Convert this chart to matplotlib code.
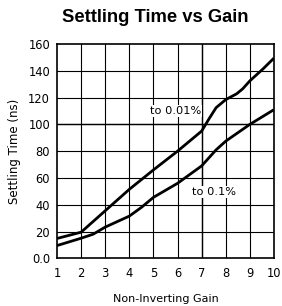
import matplotlib
matplotlib.use("Agg")
import matplotlib.pyplot as plt

gain_001 = [1, 2, 3, 4, 5, 6, 7, 7.3, 7.6, 8, 8.45, 8.7, 9, 9.55, 10]
t_001 = [14.8, 19.5, 35.5, 51.5, 66, 80, 95, 104, 112.5, 118.5, 122.8, 126.5, 132.5, 141.5, 149.5]

gain_01 = [1, 2, 2.5, 3, 4, 4.5, 5, 6, 7, 7.3, 7.6, 8, 9, 10]
t_01 = [9.5, 15, 18, 23.3, 31.5, 38, 45.5, 56, 69, 75, 81, 87.5, 100, 111]

x_ticks = [1, 2, 3, 4, 5, 6, 7, 8, 9, 10]
y_ticks = [0, 20, 40, 60, 80, 100, 120, 140, 160]
y_ticklabels = ["0.0", "20", "40", "60", "80", "100", "120", "140", "160"]

fig = plt.figure(figsize=(2.82, 3.06), dpi=100)
ax = fig.add_axes([57/282, (306-258.3)/306, (274-57)/282, (258.3-44)/306])

for x in x_ticks[1:-1]:
    ax.axvline(x, color="black", lw=1.05 if x == 7 else 0.8, zorder=1)
for y in y_ticks[1:-1]:
    ax.axhline(y, color="black", lw=1.05 if y == 100 else 0.8, zorder=1)

ax.plot(gain_001, t_001, color="black", lw=2.0, zorder=3, solid_capstyle="butt")
ax.plot(gain_01, t_01, color="black", lw=2.0, zorder=3, solid_capstyle="butt")

ax.set_xlim(1, 10)
ax.set_ylim(0, 160)
ax.set_xticks(x_ticks)
ax.set_yticks(y_ticks)
ax.set_yticklabels(y_ticklabels)
ax.tick_params(length=0, labelsize=8.3)
ax.tick_params(axis="y", pad=5)
ax.tick_params(axis="x", pad=6)
for s in ax.spines.values():
    s.set_linewidth(1.2)

ax.text(5.9, 110, "to 0.01%", fontsize=8.2, ha="center", va="center", zorder=4,
        bbox=dict(facecolor="white", edgecolor="none", pad=1))
ax.text(7.5, 49.6, "to 0.1%", fontsize=8.2, ha="center", va="center", zorder=4,
        bbox=dict(facecolor="white", edgecolor="none", pad=1))

ax.set_xlabel("Non-Inverting Gain", fontsize=8, labelpad=10)
ax.set_ylabel("Settling Time (ns)", fontsize=8.5, labelpad=5)
fig.text(155/282, 1 - 17/306, "Settling Time vs Gain", ha="center", va="center",
         fontsize=13.2, fontweight="bold", family="Liberation Sans")

fig.savefig("out.png", dpi=100)
